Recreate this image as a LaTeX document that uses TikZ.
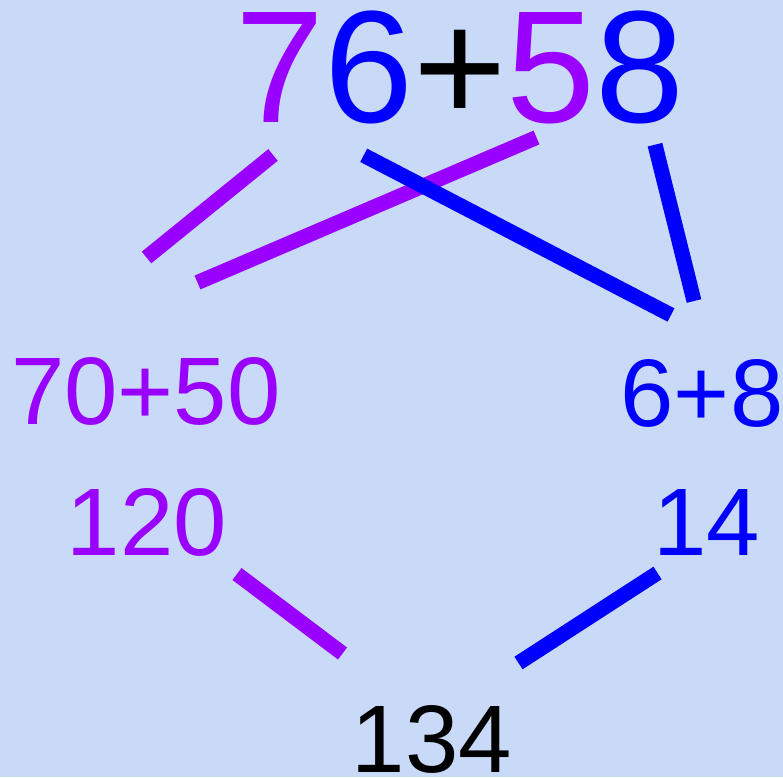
\documentclass[tikz,border=0pt]{standalone}
\usepackage{fontspec}
\setmainfont{Liberation Sans}
\usepackage{tikz}

\definecolor{slidebg}{HTML}{C9DAF8}
\definecolor{sumviolet}{HTML}{9900FF}
\definecolor{sumblue}{HTML}{0000FF}

\begin{document}
\begin{tikzpicture}[
  x=0.02cm, y=-0.02cm,
  bignum/.style={anchor=base, inner sep=0, font=\fontsize{91}{91}\selectfont },
  smallnum/.style={anchor=base, inner sep=0, font=\fontsize{54.6}{54.6}\selectfont },
  violetline/.style={draw=sumviolet, line width=0.3cm },
  blueline/.style={draw=sumblue, line width=0.3cm },
]

%BACKGROUND
\fill[slidebg] (0,0) rectangle (783,777);
\useasboundingbox (0,0) rectangle (783,777);

%NUMBERS
\node[bignum] (sum) at (460,122) {{\color{sumviolet}7}{\color{sumblue}6}+{\color{sumviolet}5}{\color{sumblue}8}};
\node[smallnum, text=sumviolet] (tens) at (146,424) {70+50};
\node[smallnum, text=sumblue] (ones) at (702,426) {6+8};
\node[smallnum, text=sumviolet] (tenssum) at (147,555) {120};
\node[smallnum, text=sumblue] (onessum) at (707,555) {14};
\node[smallnum] (total) at (432,772) {134};

%LINE ENDS
\coordinate (sevenA) at (273,155);
\coordinate (sevenB) at (146.5,257.5);
\coordinate (fiveA) at (536.5,137.5);
\coordinate (fiveB) at (197.5,282.5);
\coordinate (sixA) at (363.7,155.3);
\coordinate (sixB) at (671,315);
\coordinate (eightA) at (655,144.7);
\coordinate (eightB) at (694,301);
\coordinate (tenA) at (237,574);
\coordinate (tenB) at (342.5,653.5);
\coordinate (oneA) at (657.5,573);
\coordinate (oneB) at (518.5,663);

%LINES
\draw[violetline] (sevenA) -- (sevenB);
\draw[violetline] (fiveA) -- (fiveB);
\draw[blueline] (sixA) -- (sixB);
\draw[blueline] (eightA) -- (eightB);
\draw[violetline] (tenA) -- (tenB);
\draw[blueline] (oneA) -- (oneB);

\end{tikzpicture}
\end{document}
